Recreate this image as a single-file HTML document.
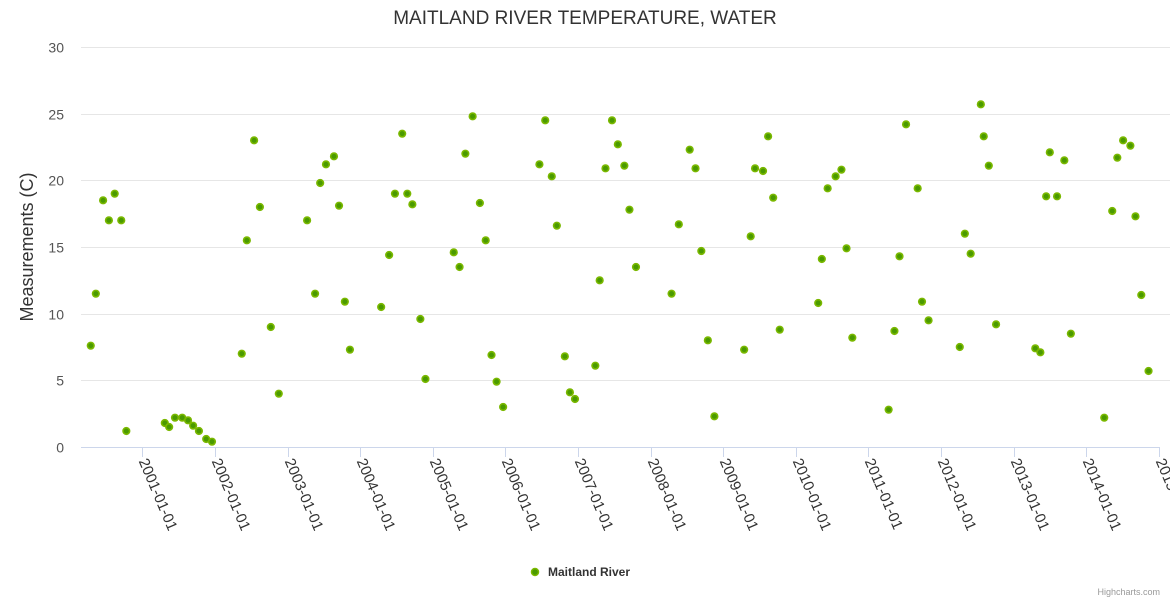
<!DOCTYPE html>
<html><head><meta charset="utf-8">
<style>
html,body{margin:0;padding:0;background:#fff;}
svg{display:block;font-family:"Liberation Sans",sans-serif;}
</style></head>
<body>
<svg id="chart" width="1170" height="600" viewBox="0 0 1170 600">
<text x="585" y="24" text-anchor="middle" font-size="19" fill="#333">MAITLAND RIVER TEMPERATURE, WATER</text>
<text transform="translate(33,247) rotate(-90)" text-anchor="middle" font-size="18" fill="#333">Measurements (C)</text>
<g id="grid"></g><g id="xaxis"></g><g id="pts"></g>
<g>
<circle cx="535" cy="572" r="3.5" fill="#4a9a00" stroke="#7ab800" stroke-width="1.5"/>
<text x="548" y="576" font-size="12" font-weight="bold" fill="#333">Maitland River</text>
</g>
<text x="1160" y="595" text-anchor="end" font-size="9" fill="#999">Highcharts.com</text>
</svg>
<script>
const yTicks=[0,5,10,15,20,25,30];
const xTickYears=[2001,2002,2003,2004,2005,2006,2007,2008,2009,2010,2011,2012,2013,2014,2015];
const years=[2000.29,2000.36,2000.46,2000.54,2000.62,2000.71,2000.78,
2001.31,2001.37,2001.45,2001.55,2001.63,2001.70,2001.78,2001.88,2001.96,
2002.37,2002.44,2002.54,2002.62,2002.77,2002.88,
2003.27,2003.38,2003.45,2003.53,2003.64,2003.71,2003.79,2003.86,
2004.29,2004.40,2004.48,2004.58,2004.65,2004.72,2004.83,2004.90,
2005.29,2005.37,2005.45,2005.55,2005.65,2005.73,2005.81,2005.88,2005.97,
2006.47,2006.55,2006.64,2006.71,2006.82,2006.89,2006.96,
2007.24,2007.30,2007.38,2007.47,2007.55,2007.64,2007.71,2007.80,
2008.29,2008.39,2008.54,2008.62,2008.70,2008.79,2008.88,
2009.29,2009.38,2009.44,2009.55,2009.62,2009.69,2009.78,
2010.31,2010.36,2010.44,2010.55,2010.63,2010.70,2010.78,
2011.28,2011.36,2011.43,2011.52,2011.68,2011.74,2011.83,
2012.26,2012.33,2012.41,2012.55,2012.59,2012.66,2012.76,
2013.30,2013.37,2013.45,2013.50,2013.60,2013.70,2013.79,
2014.25,2014.36,2014.43,2014.51,2014.61,2014.68,2014.76,2014.86];
const temps=[7.6,11.5,18.5,17,19,17,1.2,
1.8,1.5,2.2,2.2,2.0,1.6,1.2,0.6,0.4,
7.0,15.5,23.0,18.0,9.0,4.0,
17.0,11.5,19.8,21.2,21.8,18.1,10.9,7.3,
10.5,14.4,19.0,23.5,19.0,18.2,9.6,5.1,
14.6,13.5,22.0,24.8,18.3,15.5,6.9,4.9,3.0,
21.2,24.5,20.3,16.6,6.8,4.1,3.6,
6.1,12.5,20.9,24.5,22.7,21.1,17.8,13.5,
11.5,16.7,22.3,20.9,14.7,8.0,2.3,
7.3,15.8,20.9,20.7,23.3,18.7,8.8,
10.8,14.1,19.4,20.3,20.8,14.9,8.2,
2.8,8.7,14.3,24.2,19.4,10.9,9.5,
7.5,16.0,14.5,25.7,23.3,21.1,9.2,
7.4,7.1,18.8,22.1,18.8,21.5,8.5,
2.2,17.7,21.7,23.0,22.6,17.3,11.4,5.7];
const NS="http://www.w3.org/2000/svg";
const X0=81,X1=1170,Y0=447,Y1=47;
function xs(yr){return 142.3+(yr-2001)*72.6;}
function ys(v){return Y0-(v/30)*(Y0-Y1);}
function mk(t,a){const e=document.createElementNS(NS,t);for(const k in a)e.setAttribute(k,a[k]);return e;}
const grid=document.getElementById('grid');
yTicks.forEach(v=>{
 const y=Math.round(ys(v))+0.5;
 if(v>0){const l=mk('line',{x1:X0,x2:X1,y1:y,y2:y,stroke:'#e6e6e6','stroke-width':1});
 
 
 grid.appendChild(l);}
 const t=mk('text',{x:64,y:y+5,'text-anchor':'end','font-size':14,fill:'#555'});
 t.textContent=v;
 
 
 grid.appendChild(t);
});
const xa=document.getElementById('xaxis');
const al=mk('line',{x1:X0,x2:1159,y1:447.5,y2:447.5,stroke:'#ccd6eb','stroke-width':1});


xa.appendChild(al);
xTickYears.forEach(yr=>{
 const x=Math.round(xs(yr))+0.5;
 const tk=mk('line',{x1:x,x2:x,y1:447,y2:457,stroke:'#ccd6eb','stroke-width':1});
 
 
 xa.appendChild(tk);
 const t=mk('text',{transform:'translate('+(x-4)+',461) rotate(67)','font-size':15,fill:'#333'});
 t.textContent=yr+'-01-01';
 
 
 xa.appendChild(t);
});
const pts=document.getElementById('pts');
years.forEach((yr,i)=>{
 const c=mk('circle',{cx:xs(yr),cy:ys(temps[i]),r:3.3,fill:'#4a9a00',stroke:'#7ab800','stroke-width':1.6});
 
 
 pts.appendChild(c);
});
</script>
</body></html>
